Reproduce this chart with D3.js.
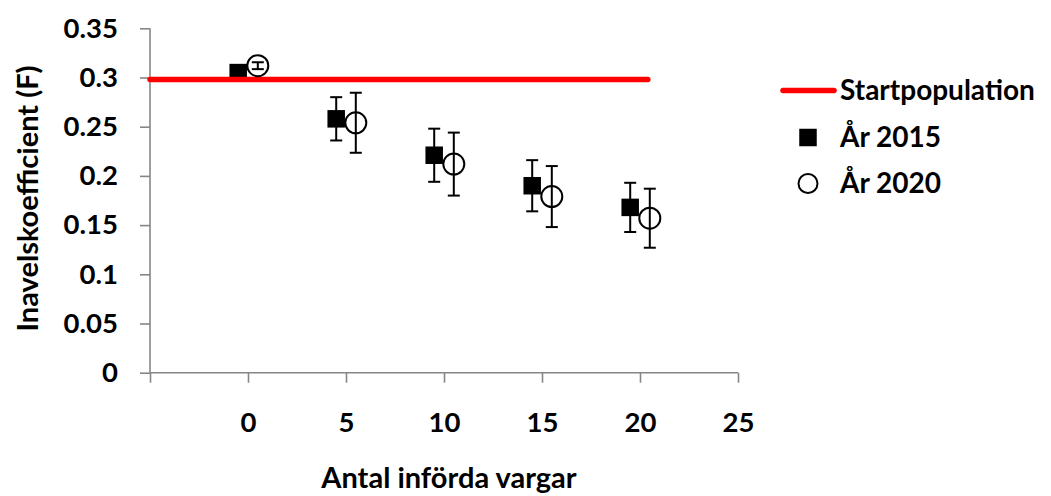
<!DOCTYPE html>
<html>
<head>
<meta charset="utf-8">
<script src="https://cdn.jsdelivr.net/npm/d3@7"></script>
<style>
  body { margin: 0; background: #fff; }
  text { font-family: Lato, "Open Sans", sans-serif; font-weight: 700; fill: #000; }
</style>
</head>
<body>
<div class="chart"></div>
<script>
// data
var x2015 = [-0.5, 4.5, 9.5, 14.5, 19.5];
var f2015 = [0.305, 0.258, 0.221, 0.190, 0.168];
var err2015 = [0.003, 0.022, 0.027, 0.026, 0.025];

var x2020 = [0.5, 5.5, 10.5, 15.5, 20.5];
var f2020 = [0.312, 0.254, 0.212, 0.179, 0.157];
var err2020 = [0.0035, 0.0305, 0.032, 0.031, 0.030];

var startX = [-5, 20.4];
var startF = 0.298;

var xTicks = [-5, 0, 5, 10, 15, 20, 25];
var xTickLabels = ["", "0", "5", "10", "15", "20", "25"];
var yTicks = [0, 0.05, 0.1, 0.15, 0.2, 0.25, 0.3, 0.35];
var yTickLabels = ["0", "0.05", "0.1", "0.15", "0.2", "0.25", "0.3", "0.35"];

var legendNames = ["Startpopulation", "År 2015", "År 2020"];

var width = 1051;
var height = 496;

var xScale = d3.scaleLinear().domain([-5, 25]).range([150, 738]);
var yScale = d3.scaleLinear().domain([0, 0.35]).range([372.7, 28.3]);

var svg = d3
  .select(".chart")
  .append("svg")
  .attr("width", width)
  .attr("height", height);

// axes
var xAxis = d3
  .axisBottom(xScale)
  .tickValues(xTicks)
  .tickSize(10)
  .tickPadding(30)
  .tickFormat(function(d, i) {
    return xTickLabels[i];
  });

var yAxis = d3
  .axisLeft(yScale)
  .tickValues(yTicks)
  .tickSize(10)
  .tickPadding(22)
  .tickFormat(function(d, i) {
    return yTickLabels[i];
  });

var gx = svg
  .append("g")
  .attr("transform", "translate(0," + yScale(0) + ")")
  .call(xAxis);

var gy = svg
  .append("g")
  .attr("transform", "translate(" + xScale(-5) + ",0)")
  .call(yAxis);

[gx, gy].forEach(function(g) {
  g.select(".domain").attr("stroke", "#868686").attr("stroke-width", 1.6);
  g.selectAll(".tick line").attr("stroke", "#868686").attr("stroke-width", 1.6);
  g.selectAll(".tick text")
    .attr("font-family", "Lato, 'Open Sans', sans-serif")
    .attr("font-weight", 700)
    .attr("font-size", 27.5)
    .attr("fill", "#000");
});
gx.select(".domain").attr("d", "M" + xScale(-5) + ",0H" + xScale(25));
gy.select(".domain").attr("d", "M0," + yScale(0) + "V" + yScale(0.35));

// axis titles
svg
  .append("text")
  .attr("x", 449)
  .attr("y", 488)
  .attr("text-anchor", "middle")
  .attr("font-size", 29)
  .text("Antal införda vargar");

svg
  .append("text")
  .attr("transform", "translate(38,198.5) rotate(-90)")
  .attr("text-anchor", "middle")
  .attr("font-size", 29)
  .text("Inavelskoefficient (F)");

function errorBars(xs, ys, es) {
  var g = svg.append("g").attr("stroke", "#000").attr("stroke-width", 2);
  xs.forEach(function(x, i) {
    var cx = xScale(x);
    var top = yScale(ys[i] + es[i]);
    var bot = yScale(ys[i] - es[i]);
    g.append("line").attr("x1", cx).attr("x2", cx).attr("y1", top).attr("y2", bot);
    g.append("line").attr("x1", cx - 6).attr("x2", cx + 6).attr("y1", top).attr("y2", top);
    g.append("line").attr("x1", cx - 6).attr("x2", cx + 6).attr("y1", bot).attr("y2", bot);
  });
}

// År 2015 squares
svg
  .selectAll("rect.s2015")
  .data(x2015)
  .enter()
  .append("rect")
  .attr("class", "s2015")
  .attr("fill", "#000")
  .attr("width", 17.5)
  .attr("height", 17.5)
  .attr("x", function(d) {
    return xScale(d) - 8.75;
  })
  .attr("y", function(d, i) {
    return yScale(f2015[i]) - 8.75;
  });
errorBars(x2015, f2015, err2015);

// Startpopulation line
svg
  .append("line")
  .attr("x1", xScale(startX[0]))
  .attr("x2", xScale(startX[1]))
  .attr("y1", yScale(startF))
  .attr("y2", yScale(startF))
  .attr("stroke", "#ff0000")
  .attr("stroke-width", 5.5)
  .attr("stroke-linecap", "round");

// År 2020 circles
svg
  .selectAll("circle.s2020")
  .data(x2020)
  .enter()
  .append("circle")
  .attr("class", "s2020")
  .attr("fill", "#fff")
  .attr("stroke", "#000")
  .attr("stroke-width", 2)
  .attr("r", 10.5)
  .attr("cx", function(d) {
    return xScale(d);
  })
  .attr("cy", function(d, i) {
    return yScale(f2020[i]);
  });
errorBars(x2020, f2020, err2020);

// legend
var legendY = [90.5, 137.5, 183.5];
var legend = svg.append("g");
legend
  .append("line")
  .attr("x1", 783)
  .attr("x2", 834)
  .attr("y1", legendY[0])
  .attr("y2", legendY[0])
  .attr("stroke", "#ff0000")
  .attr("stroke-width", 5.5)
  .attr("stroke-linecap", "round");
legend
  .append("rect")
  .attr("x", 808 - 8.75)
  .attr("y", legendY[1] - 8.75)
  .attr("width", 17.5)
  .attr("height", 17.5)
  .attr("fill", "#000");
legend
  .append("circle")
  .attr("cx", 808)
  .attr("cy", legendY[2])
  .attr("r", 9.5)
  .attr("fill", "#fff")
  .attr("stroke", "#000")
  .attr("stroke-width", 2);
legend
  .selectAll("text")
  .data(legendNames)
  .enter()
  .append("text")
  .attr("x", 840)
  .attr("y", function(d, i) {
    return legendY[i];
  })
  .attr("dy", "0.35em")
  .attr("font-size", 28)
  .text(function(d) {
    return d;
  });
</script>
</body>
</html>
